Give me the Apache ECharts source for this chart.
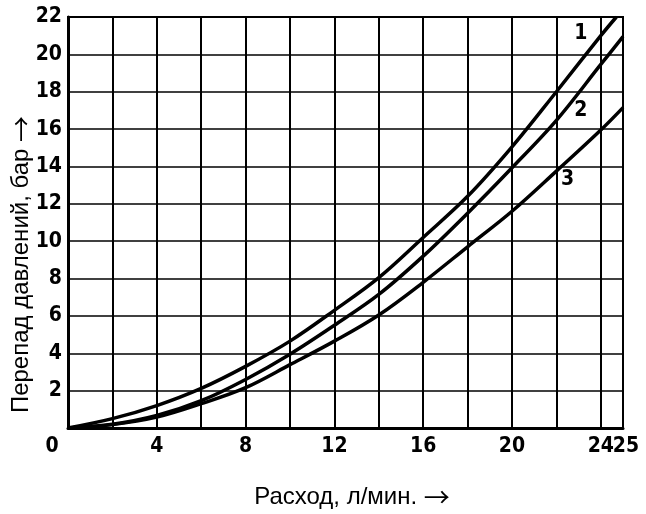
<!DOCTYPE html>
<html>
<head>
<meta charset="utf-8">
<script src="https://cdn.jsdelivr.net/npm/echarts@6/dist/echarts.min.js"></script>
<style>
html,body{margin:0;padding:0;background:#fff;}
#chart{width:646px;height:514px;}
</style>
</head>
<body>
<div id="chart"></div>
<script>
// Flow rate, l/min (x) and pressure drop, bar (y) for the three curves
const curve1X = [0, 2, 4, 6, 8, 10, 12, 14, 16, 18, 20, 22, 24, 24.7];
const curve1Y = [0, 0.5, 1.2, 2.12, 3.3, 4.65, 6.3, 8.05, 10.2, 12.4, 15.05, 18.0, 21.0, 22.0];
const curve2X = [0, 2, 4, 6, 8, 10, 12, 14, 16, 18, 20, 22, 24, 25];
const curve2Y = [0, 0.2, 0.67, 1.46, 2.6, 3.95, 5.5, 7.15, 9.2, 11.5, 13.93, 16.47, 19.46, 20.95];
const curve3X = [0, 2, 4, 6, 8, 10, 12, 14, 16, 18, 20, 22, 24, 25];
const curve3Y = [0, 0.18, 0.58, 1.3, 2.16, 3.39, 4.65, 6.05, 7.8, 9.7, 11.6, 13.75, 15.95, 17.15];
const curveNames = ['1', '2', '3'];
const curveLabelAt = [[23.1, 21.1], [23.1, 17.0], [22.5, 13.3]];
const xLabelValues = [0, 4, 8, 12, 16, 20, 24];
const xEndLabel = 25;
const xTitle = 'Расход, л/мин.';
const yTitle = 'Перепад давлений, бар';

const boldFont = "'DejaVu Sans Condensed', 'Liberation Sans Narrow', 'DejaVu Sans', sans-serif";
const titleFont = "'Liberation Sans', Arial, sans-serif";
const arrowFont = "'Noto Sans CJK SC', 'DejaVu Sans', sans-serif";

function pairs(xs, ys) { return xs.map((x, i) => [x, ys[i]]); }
const curves = [pairs(curve1X, curve1Y), pairs(curve2X, curve2Y), pairs(curve3X, curve3Y)];

const labelBase = {color: '#000', fontFamily: boldFont, fontWeight: 'bold', fontSize: 21, margin: 8};
const richBase = {color: '#000', fontFamily: boldFont, fontWeight: 'bold', fontSize: 21};

function xLabel(v) {
  if (xLabelValues.indexOf(v) < 0) return '';
  if (v === 0) return '{z|0}';
  return String(v);
}

const chart = echarts.init(document.getElementById('chart'), null, {renderer: 'canvas'});
chart.setOption({
  animation: false,
  backgroundColor: '#fff',
  grid: {left: 68, right: 23, top: 17, bottom: 86, show: true, borderColor: '#000', borderWidth: 2,
         backgroundColor: 'transparent', containLabel: false, outerBoundsMode: 'none'},
  xAxis: [{
    type: 'value', min: 0, max: 25, interval: 2,
    axisLine: {show: true, onZero: false, lineStyle: {color: '#000', width: 3}},
    axisTick: {show: false},
    splitLine: {show: true, lineStyle: {color: '#000', width: 2}},
    axisLabel: Object.assign({}, labelBase, {
      interval: 0, showMinLabel: true, showMaxLabel: false, hideOverlap: false,
      formatter: xLabel,
      rich: {z: Object.assign({}, richBase, {padding: [0, 32, 0, 0]})}
    }),
    name: xTitle + ' {a|→}', nameLocation: 'middle', nameGap: 56, nameMoveOverlap: false,
    nameTextStyle: {color: '#000', fontFamily: titleFont, fontSize: 24, padding: [0, 0, 0, 13],
      rich: {a: {color: '#000', fontFamily: arrowFont, fontSize: 26}}}
  }, {
    type: 'value', min: 0, max: 25, interval: 2, position: 'bottom',
    axisLine: {show: false}, axisTick: {show: false}, splitLine: {show: false},
    axisLabel: Object.assign({}, labelBase, {
      interval: 0, showMinLabel: false, showMaxLabel: true, hideOverlap: false,
      formatter: v => v === xEndLabel ? '{r|' + v + '}' : '',
      rich: {r: Object.assign({}, richBase, {padding: [0, 0, 0, 6]})}
    })
  }],
  yAxis: {
    type: 'value', min: 0, max: 22, interval: 2,
    axisLine: {show: true, onZero: false, lineStyle: {color: '#000', width: 3}},
    axisTick: {show: false},
    splitLine: {show: true, lineStyle: {color: '#000', width: 1.6}},
    axisLabel: {
      color: '#000', fontFamily: boldFont, fontWeight: 'bold', fontSize: 21, margin: 6,
      formatter: v => v === 0 ? '' : String(v)
    },
    name: yTitle + ' {a|→}', nameLocation: 'middle', nameGap: 34, nameMoveOverlap: false,
    nameTextStyle: {color: '#000', fontFamily: titleFont, fontSize: 24, padding: [0, 84, 0, 0],
      rich: {a: {color: '#000', fontFamily: arrowFont, fontSize: 26}}}
  },
  series: curves.map((d, i) => ({
    type: 'line',
    name: curveNames[i],
    data: d,
    smooth: 0.35,
    showSymbol: false,
    symbol: 'none',
    clip: true,
    lineStyle: {color: '#000', width: 3.5},
    markPoint: {
      symbol: 'circle', symbolSize: 1,
      itemStyle: {color: 'rgba(0,0,0,0)'},
      label: {show: true, position: 'inside', color: '#000', fontFamily: boldFont, fontWeight: 'bold', fontSize: 21, formatter: curveNames[i]},
      data: [{coord: curveLabelAt[i]}]
    }
  }))
});
</script>
</body>
</html>
